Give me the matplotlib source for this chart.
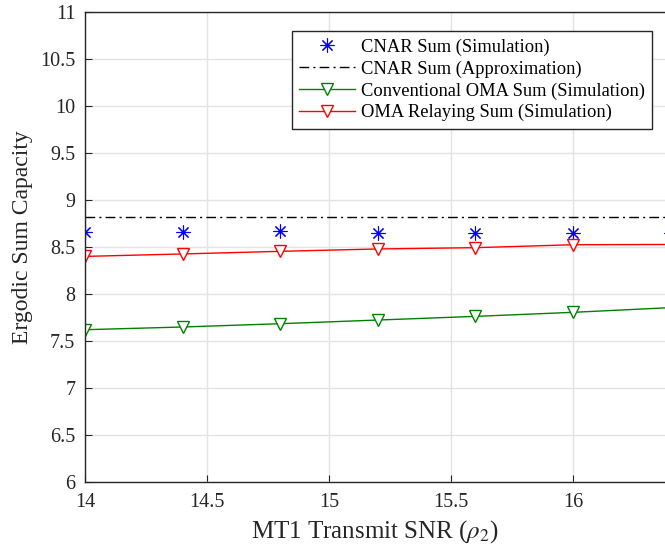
import numpy as np
import matplotlib
matplotlib.use("Agg")
import matplotlib.pyplot as plt
from matplotlib.ticker import FormatStrFormatter, MultipleLocator

plt.rcParams["font.family"] = ["Liberation Serif", "DejaVu Serif"]
plt.rcParams["mathtext.fontset"] = "stix"

# données
snr = [14.0, 14.4, 14.8, 15.2, 15.6, 16.0, 16.4]
cnar_sim = [8.655, 8.655, 8.668, 8.652, 8.652, 8.652, 8.650]
cnar_approx = [8.822] * len(snr)
oma_conv = [7.620, 7.649, 7.684, 7.723, 7.762, 7.805, 7.855]
oma_relay = [8.400, 8.426, 8.454, 8.479, 8.493, 8.524, 8.527]
xticks = [14, 14.5, 15, 15.5, 16]

fig = plt.figure(figsize=(6.65, 5.54), dpi=100)
# l'axe déborde à droite (figure rognée dans l'original)
ax_w = 3 * 244
ax = fig.add_axes([85 / 665, 72 / 554, ax_w / 665, 470 / 554])

ax.plot(snr, cnar_sim, ls="none", marker=(8, 2, 0), ms=10, mew=0.8,
        color="#0000ff", label="CNAR Sum (Simulation)")
ax.plot(snr, cnar_approx, color="black", lw=1.0, dashes=(7, 3, 1.5, 3),
        label="CNAR Sum (Approximation)")
ax.plot(snr, oma_conv, color="#008000", lw=1.0, marker="v", ms=9,
        mfc="white", mew=1.0, label="Conventional OMA Sum (Simulation)")
ax.plot(snr, oma_relay, color="#ff0000", lw=1.0, marker="v", ms=9,
        mfc="white", mew=1.0, label="OMA Relaying Sum (Simulation)")

ax.set_xlim(14, 17)
ax.set_ylim(6, 11)
ax.set_xticks(xticks)
ax.yaxis.set_major_locator(MultipleLocator(0.5))
ax.xaxis.set_major_formatter(FormatStrFormatter("%g"))
ax.yaxis.set_major_formatter(FormatStrFormatter("%g"))
ax.tick_params(direction="in", length=5, width=0.8, labelsize=14.5,
               colors="#262626", top=False, right=False)
ax.tick_params(axis="x", pad=8)
ax.tick_params(axis="y", pad=7)
ax.grid(True, color="#e3e3e3", lw=1.0)
ax.set_axisbelow(True)
for s in ax.spines.values():
    s.set_color("#262626")
    s.set_linewidth(1.0)

ax.set_xlabel(r"MT1 Transmit SNR ($\rho_2$)", fontsize=18, color="#262626")
ax.set_ylabel("Ergodic Sum Capacity", fontsize=17, color="#262626")
ax.xaxis.set_label_coords((375 - 85) / ax_w, (482 - 518) / 470)
ax.yaxis.set_label_coords((33 - 85) / ax_w, 0.52)

leg = ax.legend(loc="upper right", bbox_to_anchor=(652 / 665, 523 / 554),
                bbox_transform=fig.transFigure, borderaxespad=0,
                fancybox=False, framealpha=1, edgecolor="#262626",
                fontsize=13.3, handlelength=3.0, handletextpad=0.33,
                labelspacing=0.25, borderpad=0.4)
leg.get_frame().set_linewidth(1.0)

fig.savefig("out.png", dpi=100)
